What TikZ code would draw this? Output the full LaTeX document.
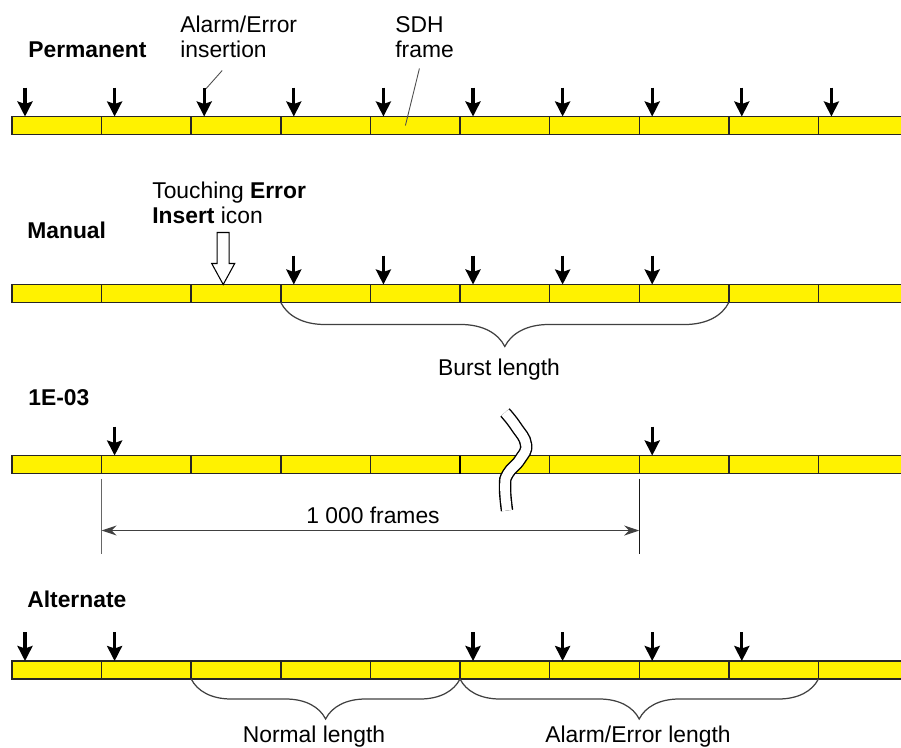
\documentclass[tikz,border=0pt]{standalone}
\usepackage{fontspec}
\setmainfont{Liberation Sans}
\usetikzlibrary{arrows.meta,positioning,calc,decorations.pathreplacing}

\begin{document}
\begin{tikzpicture}[x=0.02cm,y=-0.02cm,font=\fontsize{13}{14.2}\selectfont,
  frm/.style={draw=black!85,line width=0.8pt,fill=yellow,minimum width=1.792cm,
    minimum height=0.36cm,inner sep=0pt,outer sep=0pt},
  ins/.style={-{Stealth[length=0.3cm,width=0.3cm,inset=0.05cm]},line width=1.8pt},
  lead/.style={draw=black!70,line width=0.5pt},
  brc/.style={decorate,decoration={brace,mirror,amplitude=#1},line width=0.7pt,draw=black!75},
  brc/.default=0.88cm,
  dim/.style={{Stealth[length=0.3cm,width=0.2cm]}-{Stealth[length=0.3cm,width=0.2cm]},
    line width=0.6pt,draw=black!75},
  ext/.style={line width=0.6pt,draw=black!#1},
  lbl/.style={anchor=base west,inner sep=0pt,font=\fontsize{13}{14.2}\selectfont\bfseries},
  txt/.style={anchor=base west,inner sep=0pt,align=left},
  brkln/.style={line width=0.8pt,double=white,double distance=5.5pt}]
\clip (0,0) rectangle (901,747);
% frame rows
\foreach \r/\y in {1/125.5,2/293.5,3/464.5,4/670}
  \foreach \i in {0,...,9}
    \node[frm] (f\r-\i) at ({56.8+89.6*\i},\y) {};
% insertion arrows
\foreach \r/\lst in {1/{0,...,9},2/{3,...,7},3/{1,7},4/{0,1,5,6,7,8}}
  \foreach \i in \lst
    \draw[ins] ($(f\r-\i.north west)+(13,-29)$) -- ($(f\r-\i.north west)+(13,0)$);
% mode labels
\node[lbl] (perm) at (28,57) {Permanent};
\node[lbl] (man) at (27,238) {Manual};
\node[lbl] (rate) at (28,405) {1E-03};
\node[lbl] (alt) at (27,607) {Alternate};
% permanent
\node[txt] (alarm) at (180,57) {Alarm/Error\\insertion};
\node[txt] (sdh) at (395,57) {SDH\\frame};
\draw[lead] ($(f1-2.north west)+(31,-46)$) -- ($(f1-2.north west)+(15,-28)$);
\draw[lead] ($(f1-4.north west)+(49,-48)$) -- ($(f1-4.north west)+(35,9)$);
% manual
\node[txt] (touch) at (152,223) {Touching \textbf{Error}\\\textbf{Insert} icon};
\draw[fill=white,line width=0.6pt] ($(f2-2.north west)+(32,0)$) coordinate (tp)
  -- ++(-11.5,-21) -- ++(5.5,0) -- ++(0,-31) -- ++(12,0) -- ++(0,31) -- ++(5.5,0) -- cycle;
\draw[brc] (f2-3.south west) -- (f2-7.south east);
\node[anchor=base,inner sep=0pt] (burst) at (499,375) {Burst length};
% 1E-03
\draw[ext=60] ($(f3-1.south west)+(0,5)$) -- ($(f3-1.south west)+(0,80)$);
\draw[ext=90] ($(f3-7.south west)+(0,5)$) -- ($(f3-7.south west)+(0,80)$);
\draw[dim] ($(f3-1.south west)+(0,57)$) -- ($(f3-7.south west)+(0,57)$);
\node[anchor=base west,inner sep=0pt] (thou) at (306,523) {1 000 frames};
\draw[line width=1.6pt] (f3-5.north west) -- (f3-5.south west);
\coordinate (brk) at ($(f3-5.west)+(52,0)$);
\begin{scope}[shift={(brk)}]
  \draw[brkln] plot[smooth,tension=0.8] coordinates
    {(-7,-52) (4,-38) (14,-20) (8,-5) (-4,9) (-7,22) (-5,46)};
\end{scope}
% alternate
\draw[brc=0.8cm] (f4-2.south west) -- (f4-4.south east);
\draw[brc=0.8cm] (f4-5.south west) -- (f4-8.south east);
\node[anchor=base,inner sep=0pt] (norm) at (314,742) {Normal length};
\node[anchor=base,inner sep=0pt] (alen) at (638,742) {Alarm/Error length};
\end{tikzpicture}
\end{document}
